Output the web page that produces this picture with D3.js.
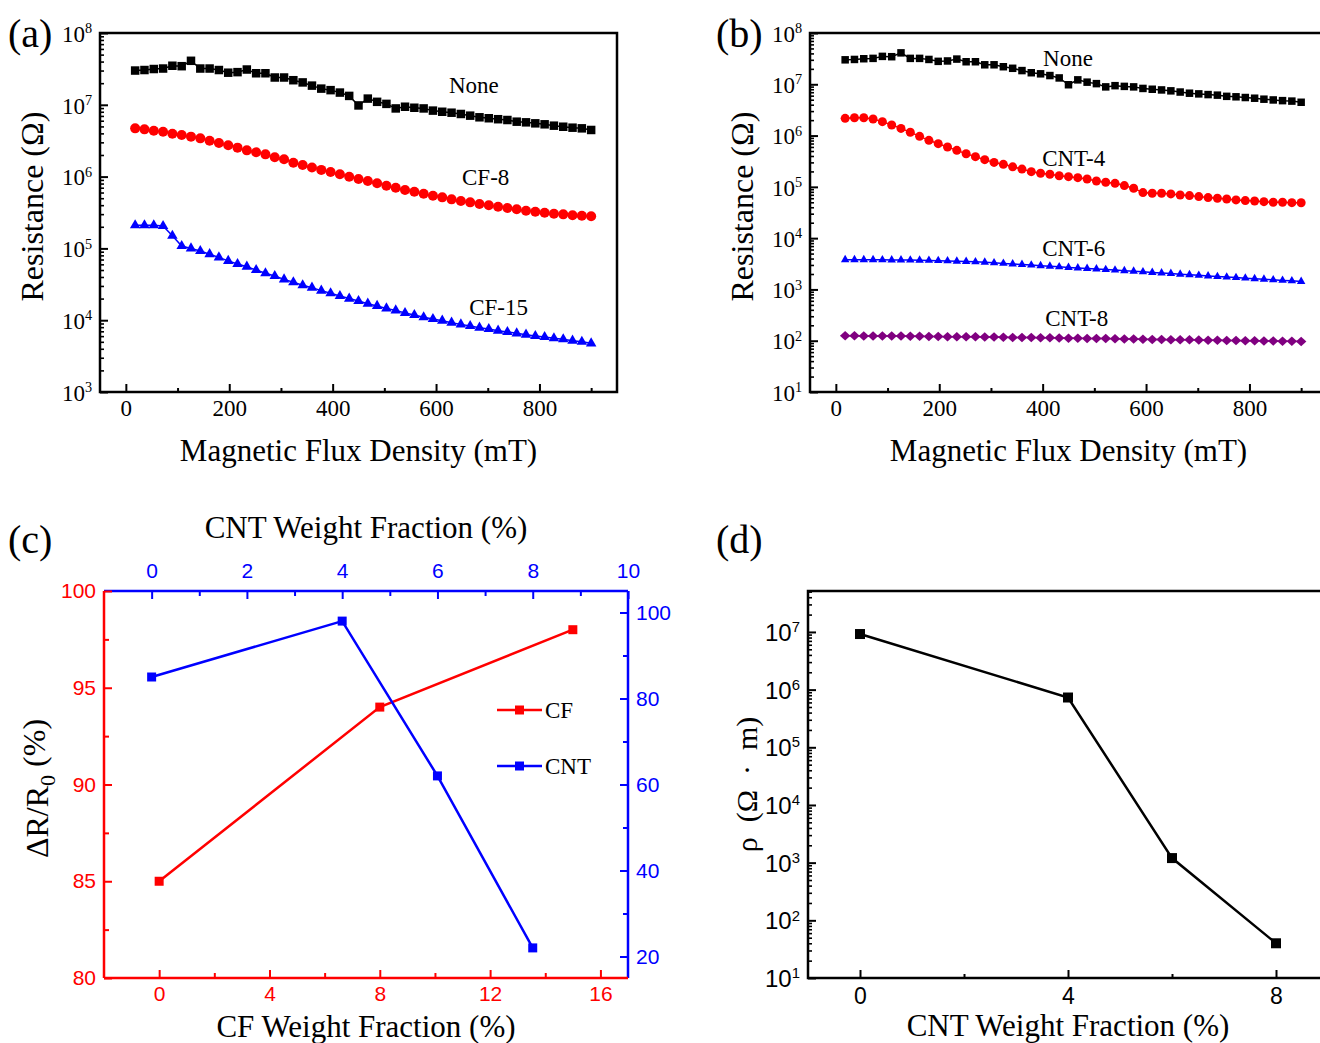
<!DOCTYPE html>
<html>
<head>
<meta charset="utf-8">
<script src="https://cdn.jsdelivr.net/npm/d3@7"></script>
<style>
  body { margin: 0; background: #fff; }
  svg { display: block; }
</style>
</head>
<body>
<svg id="fig" width="1320" height="1043"></svg>
<script>
// ---- data ----
var fieldMT = [18,36,54,72,90,108,126,144,162,180,198,216,234,252,270,288,306,324,342,360,
  378,396,414,432,450,468,486,504,522,540,558,576,594,612,630,648,666,684,702,720,
  738,756,774,792,810,828,846,864,882,900];

var resNone = [3.0e7,3.05e7,3.15e7,3.2e7,3.5e7,3.45e7,4.1e7,3.2e7,3.2e7,3.05e7,
  2.8e7,2.85e7,3.1e7,2.75e7,2.75e7,2.4e7,2.4e7,2.2e7,2.05e7,1.85e7,
  1.68e7,1.6e7,1.48e7,1.33e7,9.8e6,1.22e7,1.1e7,1.03e7,8.9e6,9.4e6,
  9.1e6,8.9e6,8.3e6,8.0e6,7.76e6,7.45e6,7.06e6,6.7e6,6.5e6,6.3e6,
  6.14e6,5.82e6,5.7e6,5.52e6,5.35e6,5.12e6,4.95e6,4.8e6,4.7e6,4.46e6];

var resCF8 = [4.7e6,4.55e6,4.36e6,4.22e6,3.96e6,3.8e6,3.6e6,3.41e6,3.16e6,2.94e6,
  2.73e6,2.53e6,2.32e6,2.18e6,2.04e6,1.86e6,1.74e6,1.56e6,1.45e6,1.34e6,
  1.24e6,1.16e6,1.08e6,9.97e5,9.27e5,8.69e5,8.06e5,7.47e5,7.0e5,6.5e5,
  6.16e5,5.78e5,5.42e5,5.14e5,4.82e5,4.57e5,4.38e5,4.15e5,3.98e5,3.81e5,
  3.65e5,3.5e5,3.35e5,3.24e5,3.14e5,3.04e5,2.98e5,2.89e5,2.85e5,2.8e5];

var resCF15 = [2.1e5,2.1e5,2.1e5,2.05e5,1.5e5,1.08e5,1.0e5,9.2e4,8.3e4,7.5e4,
  6.7e4,6.07e4,5.56e4,5.0e4,4.5e4,4.13e4,3.7e4,3.37e4,3.07e4,2.84e4,
  2.58e4,2.37e4,2.17e4,2.0e4,1.85e4,1.7e4,1.58e4,1.46e4,1.37e4,1.26e4,
  1.18e4,1.1e4,1.04e4,9.85e3,9.23e3,8.75e3,8.3e3,7.87e3,7.54e3,7.14e3,
  6.85e3,6.56e3,6.28e3,6.02e3,5.83e3,5.6e3,5.42e3,5.19e3,5.0e3,4.76e3];

var resCNT4 = [2.17e6,2.23e6,2.23e6,2.1e6,1.87e6,1.61e6,1.38e6,1.16e6,9.66e5,8.08e5,
  6.95e5,5.98e5,5.15e5,4.43e5,3.88e5,3.39e5,3.0e5,2.75e5,2.46e5,2.22e5,
  1.98e5,1.84e5,1.76e5,1.65e5,1.58e5,1.51e5,1.42e5,1.3e5,1.23e5,1.17e5,
  1.06e5,9.38e4,7.72e4,7.5e4,7.5e4,7.28e4,6.95e4,6.75e4,6.45e4,6.17e4,
  5.99e4,5.81e4,5.56e4,5.4e4,5.3e4,5.15e4,5.0e4,5.0e4,4.92e4,4.9e4];

var resCNT6 = [3.8e3,3.8e3,3.8e3,3.8e3,3.78e3,3.76e3,3.75e3,3.73e3,3.7e3,3.68e3,
  3.64e3,3.6e3,3.55e3,3.5e3,3.45e3,3.38e3,3.3e3,3.22e3,3.14e3,3.06e3,
  2.98e3,2.9e3,2.83e3,2.76e3,2.68e3,2.62e3,2.56e3,2.5e3,2.44e3,2.38e3,
  2.32e3,2.26e3,2.2e3,2.14e3,2.09e3,2.04e3,1.98e3,1.93e3,1.88e3,1.83e3,
  1.78e3,1.74e3,1.7e3,1.66e3,1.62e3,1.58e3,1.54e3,1.5e3,1.47e3,1.43e3];

var resCNT8 = [125,125,124,124,124,123,123,122,122,121,
  121,120,120,119,119,118,118,117,116,116,
  115,114,114,113,112,112,111,110,110,109,
  108,108,107,106,106,105,104,104,103,102,
  102,101,101,100,100,99,99,98,98,97];

var cfFrac = [0, 8, 15];
var cfMR = [85, 94, 98];
var cntFrac = [0, 4, 6, 8];
var cntMR = [85, 98, 62, 22];
var rhoCNT = [9.2e6, 7.3e5, 1.2e3, 40];

var fieldTicks = [0, 200, 400, 600, 800];
var fieldMinor = [100, 300, 500, 700, 900];

var SERIF = '"Times New Roman","Liberation Serif",serif';
var SANS = 'Arial,"Liberation Sans",sans-serif';

var svg = d3.select("#fig");

// draw a set of inward ticks using a d3 axis, no domain line, no labels
function ticks(g, axisFn, scale, vals, size, pos, color, width) {
  var a = axisFn(scale).tickValues(vals).tickSize(-size).tickFormat("");
  var s = g.append("g").attr("transform", pos).attr("color", color).call(a);
  s.select(".domain").remove();
  s.selectAll("line").attr("stroke-width", width);
  return s;
}

// log axis on the left with 10^n labels
function logLeft(g, y, x0, lo, hi, font, fs, color) {
  var majors = d3.range(lo, hi + 1).map(function(e) { return Math.pow(10, e); });
  var minors = [];
  majors.forEach(function(v) {
    for (var m = 2; m < 10; m++) if (v * m <= y.domain()[1]) minors.push(v * m);
  });
  ticks(g, d3.axisLeft, y, minors, 4, "translate(" + x0 + ",0)", color, 1.6);
  ticks(g, d3.axisLeft, y, majors, 8, "translate(" + x0 + ",0)", color, 2);
  var t = g.append("g").selectAll("text").data(majors).enter().append("text")
    .attr("x", x0 - 8).attr("y", function(d) { return y(d); }).attr("dy", "0.38em")
    .attr("text-anchor", "end").attr("font-family", font).attr("font-size", fs).attr("fill", color);
  t.append("tspan").text("10");
  t.append("tspan").attr("dy", "-0.6em").attr("font-size", fs * 0.62)
    .text(function(d) { return Math.round(Math.log10(d)); });
}

function marker(kind, s) {
  if (kind === "square") return "M" + (-s/2) + "," + (-s/2) + "h" + s + "v" + s + "h" + (-s) + "Z";
  if (kind === "circle") return d3.symbol(d3.symbolCircle, Math.PI * s * s / 4)();
  if (kind === "triangle") {
    var h = s * 0.87;
    return "M0," + (-h*2/3) + "L" + (s/2) + "," + (h/3) + "L" + (-s/2) + "," + (h/3) + "Z";
  }
  // diamond
  return "M0," + (-s*0.5) + "L" + (s*0.55) + ",0L0," + (s*0.5) + "L" + (-s*0.55) + ",0Z";
}

function drawSeries(g, x, y, xs, ys, color, kind, size, lw) {
  var pts = xs.map(function(v, i) { return [v, ys[i]]; });
  g.append("path").datum(pts)
    .attr("fill", "none").attr("stroke", color).attr("stroke-width", lw)
    .attr("d", d3.line().x(function(d) { return x(d[0]); }).y(function(d) { return y(d[1]); }));
  g.append("g").selectAll("path").data(pts).enter().append("path")
    .attr("transform", function(d) { return "translate(" + x(d[0]) + "," + y(d[1]) + ")"; })
    .attr("d", marker(kind, size)).attr("fill", color);
}

function panelLetter(txt, x, y) {
  svg.append("text").attr("x", x).attr("y", y).attr("font-family", SERIF)
    .attr("font-size", 40).text(txt);
}

// ---------- panels (a) and (b) ----------
function resistancePanel(box, lo, hi, series, notes) {
  var g = svg.append("g");
  var x = d3.scaleLinear().domain([-50, 950]).range([box.left, box.right]);
  var y = d3.scaleLog().domain([Math.pow(10, lo), Math.pow(10, hi)]).range([box.bottom, box.top]);

  series.forEach(function(s) {
    drawSeries(g, x, y, fieldMT, s.values, s.color, s.kind, s.size, 1.5);
  });

  g.append("rect").attr("x", box.left).attr("y", box.top)
    .attr("width", box.right - box.left).attr("height", box.bottom - box.top)
    .attr("fill", "none").attr("stroke", "#000").attr("stroke-width", 2.5);

  ticks(g, d3.axisBottom, x, fieldMinor, 4, "translate(0," + box.bottom + ")", "#000", 2);
  var xa = g.append("g").attr("transform", "translate(0," + box.bottom + ")")
    .call(d3.axisBottom(x).tickValues(fieldTicks).tickSize(-8).tickPadding(8));
  xa.select(".domain").remove();
  xa.selectAll("line").attr("stroke-width", 2);
  xa.selectAll("text").attr("font-family", SERIF).attr("font-size", 23).attr("fill", "#000");

  logLeft(g, y, box.left, lo, hi, SERIF, 23, "#000");

  g.append("text").attr("x", (box.left + box.right) / 2).attr("y", 461)
    .attr("text-anchor", "middle").attr("font-family", SERIF).attr("font-size", 31)
    .text("Magnetic Flux Density (mT)");
  g.append("text").attr("transform", "translate(" + (box.left - 57) + "," + ((box.top + box.bottom) / 2 - 6) + ") rotate(-90)")
    .attr("text-anchor", "middle").attr("font-family", SERIF).attr("font-size", 32)
    .text("Resistance (\u03A9)");

  g.append("g").selectAll("text").data(notes).enter().append("text")
    .attr("x", function(d) { return x(d.x); }).attr("y", function(d) { return y(d.y); })
    .attr("dy", "0.35em").attr("text-anchor", "middle")
    .attr("font-family", SERIF).attr("font-size", 23).text(function(d) { return d.text; });
}

resistancePanel({left: 100, right: 617, top: 33, bottom: 392}, 3, 8, [
  {values: resNone, color: "#000000", kind: "square", size: 8.5},
  {values: resCF8, color: "#ff0000", kind: "circle", size: 10},
  {values: resCF15, color: "#0000ff", kind: "triangle", size: 10.5}
], [
  {text: "None", x: 673, y: 1.9e7},
  {text: "CF-8", x: 696, y: 9.9e5},
  {text: "CF-15", x: 721, y: 1.53e4}
]);

resistancePanel({left: 810, right: 1327, top: 33, bottom: 392}, 1, 8, [
  {values: resNone, color: "#000000", kind: "square", size: 7.5},
  {values: resCNT4, color: "#ff0000", kind: "circle", size: 9},
  {values: resCNT6, color: "#0000ff", kind: "triangle", size: 8.5},
  {values: resCNT8, color: "#800080", kind: "diamond", size: 9.5}
], [
  {text: "None", x: 449, y: 3.26e7},
  {text: "CNT-4", x: 460, y: 3.66e5},
  {text: "CNT-6", x: 460, y: 6.43e3},
  {text: "CNT-8", x: 466, y: 277}
]);

panelLetter("(a)", 8, 47);
panelLetter("(b)", 716, 47);
panelLetter("(c)", 8, 553);
panelLetter("(d)", 716, 553);

// ---------- panel (c) ----------
(function() {
  var RED = "#ff0000", BLUE = "#0000ff";
  var box = {left: 104, right: 628, top: 591, bottom: 978};
  var g = svg.append("g");
  var xB = d3.scaleLinear().domain([-2, 17]).range([box.left, box.right]);
  var xT = d3.scaleLinear().domain([-1, 10]).range([box.left, box.right]);
  var yL = d3.scaleLinear().domain([80, 100]).range([box.bottom, box.top]);
  var yR = d3.scaleLinear().domain([15, 105]).range([box.bottom, box.top]);

  drawSeries(g, xB, yL, cfFrac, cfMR, RED, "square", 9, 2.5);
  drawSeries(g, xT, yR, cntFrac, cntMR, BLUE, "square", 9, 2.5);

  function side(x1, y1, x2, y2, c) {
    g.append("line").attr("x1", x1).attr("y1", y1).attr("x2", x2).attr("y2", y2)
      .attr("stroke", c).attr("stroke-width", 2.5);
  }
  side(box.left, box.top, box.right, box.top, BLUE);
  side(box.right, box.top, box.right, box.bottom, BLUE);
  side(box.left, box.bottom, box.right, box.bottom, RED);
  side(box.left, box.top, box.left, box.bottom, RED);

  function styled(s, c) {
    s.select(".domain").remove();
    s.selectAll("line").attr("stroke-width", 2);
    s.selectAll("text").attr("font-family", SANS).attr("font-size", 21).attr("fill", c);
  }
  ticks(g, d3.axisBottom, xB, [2, 6, 10, 14], 5, "translate(0," + box.bottom + ")", RED, 2);
  styled(g.append("g").attr("transform", "translate(0," + box.bottom + ")").attr("color", RED)
    .call(d3.axisBottom(xB).tickValues([0, 4, 8, 12, 16]).tickSize(-8).tickPadding(8)), RED);
  ticks(g, d3.axisLeft, yL, [82.5, 87.5, 92.5, 97.5], 5, "translate(" + box.left + ",0)", RED, 2);
  styled(g.append("g").attr("transform", "translate(" + box.left + ",0)").attr("color", RED)
    .call(d3.axisLeft(yL).tickValues([80, 85, 90, 95, 100]).tickSize(-8).tickPadding(8)), RED);
  ticks(g, d3.axisTop, xT, [1, 3, 5, 7, 9], 5, "translate(0," + box.top + ")", BLUE, 2);
  styled(g.append("g").attr("transform", "translate(0," + box.top + ")").attr("color", BLUE)
    .call(d3.axisTop(xT).tickValues([0, 2, 4, 6, 8, 10]).tickSize(-8).tickPadding(13)), BLUE);
  ticks(g, d3.axisRight, yR, [30, 50, 70, 90], 5, "translate(" + box.right + ",0)", BLUE, 2);
  styled(g.append("g").attr("transform", "translate(" + box.right + ",0)").attr("color", BLUE)
    .call(d3.axisRight(yR).tickValues([20, 40, 60, 80, 100]).tickSize(-8).tickPadding(8)), BLUE);

  // legend
  var legend = [{text: "CF", color: RED}, {text: "CNT", color: BLUE}];
  var lg = g.append("g").selectAll("g").data(legend).enter().append("g")
    .attr("transform", function(d, i) { return "translate(497," + (710 + i * 56) + ")"; });
  lg.append("line").attr("x1", 0).attr("x2", 45).attr("stroke", function(d) { return d.color; })
    .attr("stroke-width", 2.5);
  lg.append("path").attr("transform", "translate(22.5,0)").attr("d", marker("square", 9))
    .attr("fill", function(d) { return d.color; });
  lg.append("text").attr("x", 48).attr("dy", "0.35em").attr("font-family", SERIF)
    .attr("font-size", 23).text(function(d) { return d.text; });

  g.append("text").attr("x", 366).attr("y", 538).attr("text-anchor", "middle")
    .attr("font-family", SERIF).attr("font-size", 31).text("CNT Weight Fraction (%)");
  g.append("text").attr("x", 366).attr("y", 1037).attr("text-anchor", "middle")
    .attr("font-family", SERIF).attr("font-size", 31).text("CF Weight Fraction (%)");
  var yt = g.append("text").attr("transform", "translate(48," + ((box.top + box.bottom) / 2 + 4) + ") rotate(-90)")
    .attr("text-anchor", "middle").attr("font-family", SERIF).attr("font-size", 32);
  yt.append("tspan").text("\u0394R/R");
  yt.append("tspan").attr("dy", "0.3em").attr("font-size", 22).text("0");
  yt.append("tspan").attr("dy", "-0.3em").text(" (%)");
})();

// ---------- panel (d) ----------
(function() {
  var box = {left: 808, right: 1328, top: 591, bottom: 978};
  var g = svg.append("g");
  var x = d3.scaleLinear().domain([-1, 9]).range([box.left, box.right]);
  var y = d3.scaleLog().domain([10, Math.pow(10, 7.71)]).range([box.bottom, box.top]);

  drawSeries(g, x, y, cntFrac, rhoCNT, "#000", "square", 10, 2.5);

  g.append("rect").attr("x", box.left).attr("y", box.top)
    .attr("width", box.right - box.left).attr("height", box.bottom - box.top)
    .attr("fill", "none").attr("stroke", "#000").attr("stroke-width", 2.5);

  ticks(g, d3.axisBottom, x, [2, 6], 4, "translate(0," + box.bottom + ")", "#000", 2);
  var xa = g.append("g").attr("transform", "translate(0," + box.bottom + ")")
    .call(d3.axisBottom(x).tickValues([0, 4, 8]).tickSize(-8).tickPadding(10));
  xa.select(".domain").remove();
  xa.selectAll("line").attr("stroke-width", 2);
  xa.selectAll("text").attr("font-family", SANS).attr("font-size", 23).attr("fill", "#000");

  logLeft(g, y, box.left, 1, 7, SANS, 24, "#000");

  g.append("text").attr("x", 1068).attr("y", 1036).attr("text-anchor", "middle")
    .attr("font-family", SERIF).attr("font-size", 31).text("CNT Weight Fraction (%)");
  g.append("text").attr("transform", "translate(757," + ((box.top + box.bottom) / 2) + ") rotate(-90)")
    .attr("text-anchor", "middle").attr("font-family", SERIF).attr("font-size", 30)
    .attr("xml:space", "preserve").text("\u03C1  (\u03A9  \u00B7  m)");
})();
</script>
</body>
</html>
